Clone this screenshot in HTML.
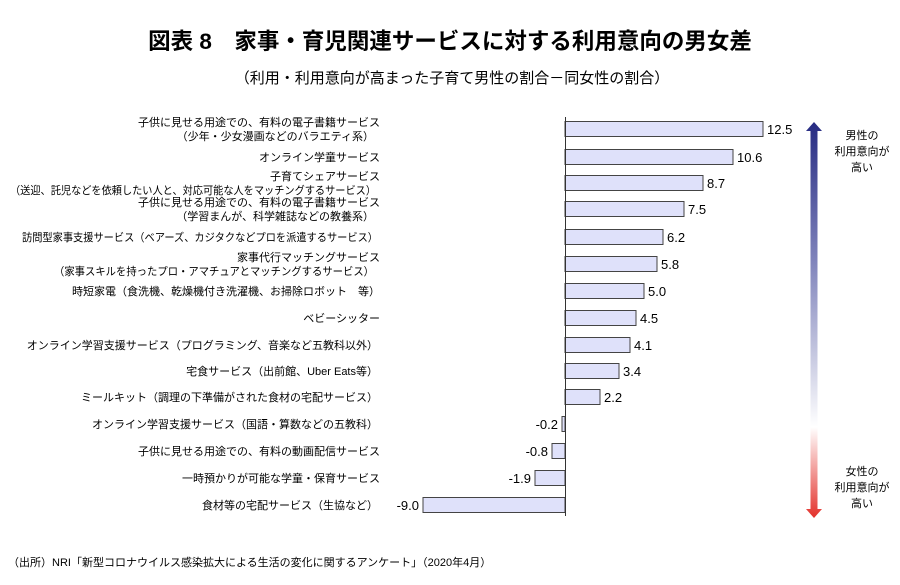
<!DOCTYPE html><html><head><meta charset="utf-8"><style>
body{margin:0;background:#fff;width:900px;height:580px;overflow:hidden;font-family:"Liberation Sans","Noto Sans CJK JP",sans-serif;color:#111}
</style></head><body>
<svg width="900" height="580" xmlns="http://www.w3.org/2000/svg" font-family="Liberation Sans, Noto Sans CJK JP, sans-serif">
<defs><linearGradient id="g" x1="0" y1="0" x2="0" y2="1">
<stop offset="0" stop-color="#262b82"/><stop offset="0.35" stop-color="#7f83bb"/><stop offset="0.6" stop-color="#c9cbe2"/><stop offset="0.77" stop-color="#fff"/><stop offset="1" stop-color="#e3302a"/></linearGradient></defs>
<text x="450" y="49" text-anchor="middle" font-size="22.5" font-weight="bold">図表 8　家事・育児関連サービスに対する利用意向の男女差</text>
<text x="452" y="83" text-anchor="middle" font-size="15">（利用・利用意向が高まった子育て男性の割合－同女性の割合）</text>
<g font-size="11" text-anchor="end">
<text x="380" y="126">子供に見せる用途での、有料の電子書籍サービス</text>
<text x="374" y="140">（少年・少女漫画などのバラエティ系）</text>
<text x="380" y="161">オンライン学童サービス</text>
<text x="380" y="180">子育てシェアサービス</text>
<text x="376" y="194" textLength="366" lengthAdjust="spacingAndGlyphs">（送迎、託児などを依頼したい人と、対応可能な人をマッチングするサービス）</text>
<text x="380" y="206">子供に見せる用途での、有料の電子書籍サービス</text>
<text x="374" y="220">（学習まんが、科学雑誌などの教養系）</text>
<text x="378" y="241" textLength="356" lengthAdjust="spacingAndGlyphs">訪問型家事支援サービス（ベアーズ、カジタクなどプロを派遣するサービス）</text>
<text x="380" y="261">家事代行マッチングサービス</text>
<text x="374" y="275" textLength="320" lengthAdjust="spacingAndGlyphs">（家事スキルを持ったプロ・アマチュアとマッチングするサービス）</text>
<text x="380" y="295">時短家電（食洗機、乾燥機付き洗濯機、お掃除ロボット　等）</text>
<text x="380" y="322">ベビーシッター</text>
<text x="378" y="349">オンライン学習支援サービス（プログラミング、音楽など五教科以外）</text>
<text x="378" y="375">宅食サービス（出前館、Uber Eats等）</text>
<text x="378" y="401">ミールキット（調理の下準備がされた食材の宅配サービス）</text>
<text x="378" y="428">オンライン学習支援サービス（国語・算数などの五教科）</text>
<text x="380" y="455">子供に見せる用途での、有料の動画配信サービス</text>
<text x="380" y="482">一時預かりが可能な学童・保育サービス</text>
<text x="378" y="509">食材等の宅配サービス（生協など）</text>
</g>
<g fill="#dfe1fa" stroke="#444" stroke-width="1">
<rect x="565" y="121.5" width="198" height="15"/>
<rect x="565" y="149.5" width="168" height="15"/>
<rect x="565" y="175.5" width="138" height="15"/>
<rect x="565" y="201.5" width="119" height="15"/>
<rect x="565" y="229.5" width="98" height="15"/>
<rect x="565" y="256.5" width="92" height="15"/>
<rect x="565" y="283.5" width="79" height="15"/>
<rect x="565" y="310.5" width="71" height="15"/>
<rect x="565" y="337.5" width="65" height="15"/>
<rect x="565" y="363.5" width="54" height="15"/>
<rect x="565" y="389.5" width="35" height="15"/>
<rect x="562" y="416.5" width="3" height="15"/>
<rect x="552" y="443.5" width="13" height="15"/>
<rect x="535" y="470.5" width="30" height="15"/>
<rect x="423" y="497.5" width="142" height="15"/>
</g>
<line x1="565.5" y1="117" x2="565.5" y2="516" stroke="#333" stroke-width="1"/>
<g font-size="13">
<text x="767" y="134">12.5</text><text x="737" y="162">10.6</text><text x="707" y="188">8.7</text>
<text x="688" y="214">7.5</text><text x="667" y="242">6.2</text><text x="661" y="269">5.8</text>
<text x="648" y="296">5.0</text><text x="640" y="323">4.5</text><text x="634" y="350">4.1</text>
<text x="623" y="376">3.4</text><text x="604" y="402">2.2</text>
<text x="558" y="429" text-anchor="end">-0.2</text><text x="548" y="456" text-anchor="end">-0.8</text>
<text x="531" y="483" text-anchor="end">-1.9</text><text x="419" y="510" text-anchor="end">-9.0</text>
</g>
<polygon points="814,122 822,131 817.5,131 817.5,509 822,509 814,518 806,509 810.5,509 810.5,131 806,131" fill="url(#g)"/>
<g font-size="11" text-anchor="middle">
<text x="862" y="139">男性の</text><text x="862" y="155">利用意向が</text><text x="862" y="171">高い</text>
<text x="862" y="475">女性の</text><text x="862" y="491">利用意向が</text><text x="862" y="507">高い</text>
</g>
<text x="8" y="566" font-size="11">（出所）NRI「新型コロナウイルス感染拡大による生活の変化に関するアンケート」（2020年4月）</text>
</svg>
</body></html>
